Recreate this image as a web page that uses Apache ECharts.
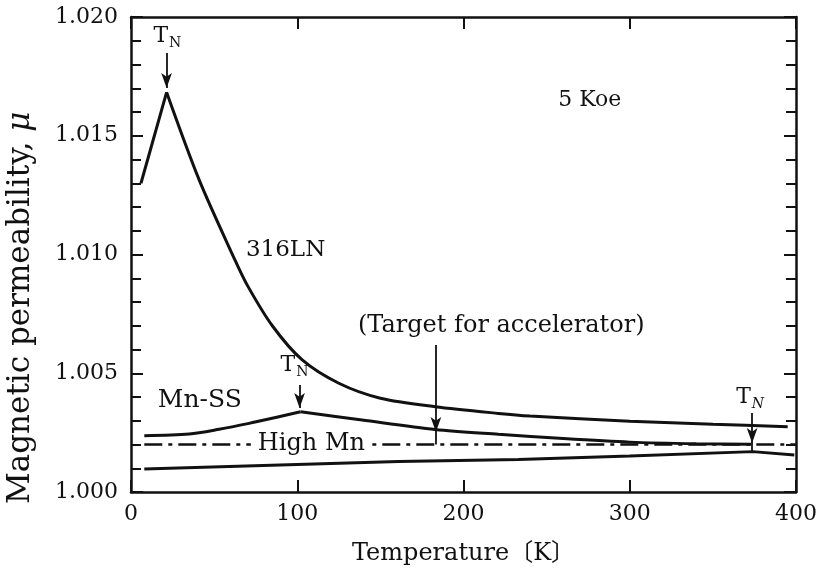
<!DOCTYPE html>
<html>
<head>
<meta charset="utf-8">
<script src="https://cdn.jsdelivr.net/npm/echarts@6/dist/echarts.min.js"></script>
<style>html,body{margin:0;padding:0;background:#fff}#c{width:820px;height:572px}</style>
</head>
<body>
<div id="c"></div>
<script>
// ---- data ----
const xTicks = [0, 100, 200, 300, 400];
const yTicks = [1.000, 1.005, 1.010, 1.015, 1.020];

const temps316LN = [6, 21.4, 41, 62, 70, 85, 103, 125, 150, 183, 221, 240, 300, 350, 395];
const mu316LN    = [1.0130, 1.01683, 1.01314, 1.00985, 1.0087, 1.0070, 1.00556, 1.00458, 1.00395, 1.00359, 1.00331, 1.0032, 1.00298, 1.00285, 1.00275];
const peak316LN = 1;

const tempsMnSS = [8, 35, 53, 71, 87, 102, 139, 183, 221, 260, 300, 340, 373];
const muMnSS    = [1.00237, 1.00244, 1.00264, 1.00289, 1.00314, 1.00338, 1.00303, 1.00263, 1.00243, 1.00225, 1.0021, 1.00203, 1.00201];
const peakMnSS = 5;

const tempsHighMn = [8, 161, 233, 300, 374, 399];
const muHighMn    = [1.00097, 1.00128, 1.00137, 1.00152, 1.0017, 1.00156];

const tempsTarget = [8, 400];
const muTarget    = [1.002, 1.002];

// ---- helpers ----
function pairs(xs, ys, a, b) {
  const out = [];
  for (let i = a; i <= b; i++) out.push([xs[i], ys[i]]);
  return out;
}
const FONT = 'DejaVu Serif';
const INK = '#111';
const lineSeries = (name, data, smooth) => ({
  name, type: 'line', data, smooth, symbol: 'none',
  lineStyle: { color: INK, width: 3 }, silent: true, animation: false, z: 3
});
const tn = { t: { fontFamily: FONT, fontSize: 22, color: INK, lineHeight: 28, verticalAlign: 'middle' },
             n: { fontFamily: FONT, fontSize: 14, color: INK, lineHeight: 28, verticalAlign: 'bottom', padding: [0,0,0,1] } };
const tnIt = { t: tn.t, n: Object.assign({}, tn.n, { fontStyle: 'italic' }) };
const txt = (name, coord, size, extra) => ({
  name, coord, symbol: 'circle', symbolSize: 0,
  label: Object.assign({ show: true, position: 'inside', formatter: '{b}', fontFamily: FONT,
    fontSize: size, color: INK }, extra || {})
});
const arrow = (a, b) => [{ coord: a, symbol: 'none' }, { coord: b, symbol: 'arrow', symbolSize: [8, 15] }];
const seg = (a, b) => [{ coord: a, symbol: 'none' }, { coord: b, symbol: 'none' }];

const chart = echarts.init(document.getElementById('c'), null, { renderer: 'canvas' });

const axisCommon = {
  type: 'value', min: 0, max: 400, interval: 100,
  axisLine: { show: true, onZero: false, lineStyle: { color: INK, width: 2.5 } },
  axisTick: { show: true, inside: true, length: 12, lineStyle: { color: INK, width: 2 } },
  splitLine: { show: false }
};
const yCommon = {
  type: 'value', min: yTicks[0], max: yTicks[yTicks.length - 1], interval: 0.005,
  axisLine: { show: true, onZero: false, lineStyle: { color: INK, width: 2.5 } },
  axisTick: { show: true, inside: true, length: 12, lineStyle: { color: INK, width: 2 } },
  minorTick: { show: true, splitNumber: 5, length: 10, lineStyle: { color: INK, width: 2 } },
  splitLine: { show: false }
};

chart.setOption({
  backgroundColor: '#fff',
  animation: false,
  grid: { left: 131, right: 22, top: 17, bottom: 80, containLabel: false },
  xAxis: [
    Object.assign({}, axisCommon, {
      position: 'bottom',
      axisLabel: { show: true, fontFamily: FONT, fontSize: 22, color: INK, margin: 11,
        formatter: v => xTicks.includes(v) ? String(v) : '' },
      name: 'Temperature〔K〕', nameLocation: 'middle', nameGap: 50,
      nameTextStyle: { fontFamily: FONT + ', Noto Sans CJK JP', fontSize: 24, color: INK }
    }),
    Object.assign({}, axisCommon, { position: 'top', axisLabel: { show: false } })
  ],
  yAxis: [
    Object.assign({}, yCommon, {
      position: 'left',
      axisLabel: { show: true, fontFamily: FONT, fontSize: 22, color: INK, margin: 13,
        formatter: v => v.toFixed(3) }
    }),
    Object.assign({}, yCommon, { position: 'right', axisLabel: { show: false } })
  ],
  graphic: [{
    type: 'text',
    style: { text: 'Magnetic permeability, {i|μ}', font: '31px ' + FONT, fill: INK,
      rich: { i: { fontStyle: 'italic', fontFamily: FONT, fontSize: 31, fill: INK } } },
    rotation: Math.PI / 2, x: 5, y: 504
  }],
  series: [
    lineSeries('316LN rise', pairs(temps316LN, mu316LN, 0, peak316LN), false),
    lineSeries('316LN', pairs(temps316LN, mu316LN, peak316LN, temps316LN.length - 1), 0.3),
    lineSeries('Mn-SS rise', pairs(tempsMnSS, muMnSS, 0, peakMnSS), 0.3),
    lineSeries('Mn-SS', pairs(tempsMnSS, muMnSS, peakMnSS, tempsMnSS.length - 1), 0.3),
    lineSeries('High Mn', pairs(tempsHighMn, muHighMn, 0, tempsHighMn.length - 1), false),
    {
      name: 'Target', type: 'line', symbol: 'none', silent: true, animation: false, z: 2,
      data: pairs(tempsTarget, muTarget, 0, tempsTarget.length - 1),
      lineStyle: { color: INK, width: 2.5, type: [18, 6, 4, 6] },
      markPoint: {
        silent: true, animation: false,
        data: [
          txt('5 Koe', [275.9, 1.0165], 22),
          txt('316LN', [93, 1.01019], 23),
          txt('Mn-SS', [41.4, 1.00387], 25),
          txt('(Target for accelerator)', [222.7, 1.00699], 24),
          txt('High Mn', [108.5, 1.00202], 24, { backgroundColor: '#fff', padding: [0, 7, 0, 7] }),
          txt('TN', [21.9, 1.0192], 22, { formatter: '{t|T}{n|N}', rich: tn }),
          txt('TN', [98.3, 1.00533], 22, { formatter: '{t|T}{n|N}', rich: tn }),
          txt('TN', [372.4, 1.0040], 22, { formatter: '{t|T}{n|N}', rich: tnIt })
        ]
      },
      markLine: {
        silent: true, animation: false, symbol: ['none', 'arrow'],
        label: { show: false },
        lineStyle: { color: INK, width: 1.8, type: 'solid' },
        emphasis: { disabled: true },
        data: [
          arrow([21.4, 1.01848], [21.4, 1.01701]),
          arrow([101.4, 1.00451], [101.4, 1.00354]),
          arrow([183.4, 1.00619], [183.4, 1.00253]),
          seg([183.4, 1.00253], [183.4, 1.0020]),
          arrow([373.6, 1.00333], [373.6, 1.00206]),
          seg([373.6, 1.00206], [373.6, 1.0017])
        ]
      }
    }
  ]
});
</script>
</body>
</html>
